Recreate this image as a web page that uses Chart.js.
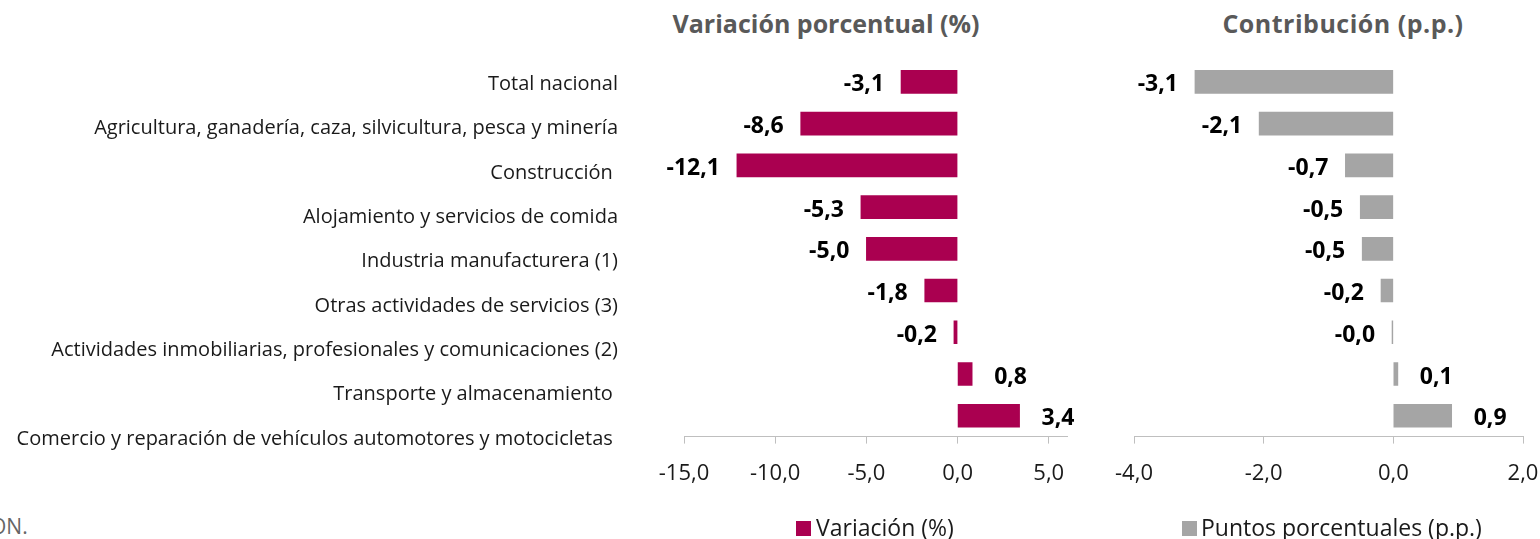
<!DOCTYPE html>
<html lang="es">
<head>
<meta charset="utf-8">
<script src="https://cdn.jsdelivr.net/npm/chart.js@4.4.1/dist/chart.umd.min.js"></script>
<style>
  body { margin: 0; width: 1540px; height: 539px; background: #fff; overflow: hidden; position: relative; font-family: "Open Sans", sans-serif; }
  canvas { position: absolute; top: 0; }
  .titulo { position: absolute; top: 6px; width: 500px; font-weight: bold; font-size: 25px; color: #595959; text-align: center; white-space: nowrap; }
  .leyenda { position: absolute; top: 511px; font-size: 23px; color: #1a1a1a; white-space: nowrap; }
  .cuadro { position: absolute; top: 521px; width: 15px; height: 15px; }
  #fuente { position: absolute; left: -10px; top: 512px; font-size: 21px; color: #666; }
</style>
</head>
<body>
<div class="titulo" style="left:576px;">Variación porcentual (%)</div>
<div class="titulo" style="left:1093px; letter-spacing:0.5px;">Contribución (p.p.)</div>
<div id="fuente">ON.</div>
<canvas id="etiquetasCanvas" width="640" height="539" style="left:0;"></canvas>
<canvas id="variacionCanvas" width="470" height="539" style="left:630px;"></canvas>
<canvas id="contribucionCanvas" width="440" height="539" style="left:1100px;"></canvas>
<span class="cuadro" id="cuadroVariacion" style="left:796px;"></span>
<span class="leyenda" id="leyendaVariacion" style="left:816px;"></span>
<span class="cuadro" id="cuadroContribucion" style="left:1182px;"></span>
<span class="leyenda" id="leyendaContribucion" style="left:1201px;"></span>
<script>
const categorias = [
  "Total nacional",
  "Agricultura, ganadería, caza, silvicultura, pesca y minería",
  "Construcción ",
  "Alojamiento y servicios de comida",
  "Industria manufacturera (1)",
  "Otras actividades de servicios (3)",
  "Actividades inmobiliarias, profesionales y comunicaciones (2)",
  "Transporte y almacenamiento ",
  "Comercio y reparación de vehículos automotores y motocicletas "
];
const variacion = [-3.1, -8.6, -12.1, -5.3, -5.0, -1.8, -0.2, 0.8, 3.4];
const contribucion = [-3.06, -2.07, -0.74, -0.51, -0.48, -0.19, -0.02, 0.07, 0.9];
const ticksVariacion = [-15, -10, -5, 0, 5];
const ticksContribucion = [-4, -2, 0, 2];
const serieVariacion = "Variación (%)";
const serieContribucion = "Puntos porcentuales (p.p.)";
const colorVariacion = "#aa0050";
const colorContribucion = "#a5a5a5";

const fuente = '"Open Sans", sans-serif';
const formato = v => v.toFixed(1).replace('.', ',');

// etiquetas de datos al final de cada barra
const etiquetasBarras = {
  id: 'etiquetasBarras',
  afterDatasetsDraw(chart) {
    const ctx = chart.ctx;
    const meta = chart.getDatasetMeta(0);
    const valores = chart.data.datasets[0].data;
    ctx.save();
    ctx.font = 'bold 23px ' + fuente;
    ctx.fillStyle = '#000';
    ctx.textBaseline = 'middle';
    meta.data.forEach((barra, i) => {
      const v = valores[i];
      if (v < 0) {
        ctx.textAlign = 'right';
        ctx.fillText(formato(v), barra.x - 17, barra.y + 3);
      } else {
        ctx.textAlign = 'left';
        ctx.fillText(formato(v), barra.x + 22, barra.y + 3);
      }
    });
    ctx.restore();
  }
};

// columna de categorias
new Chart(document.getElementById("etiquetasCanvas"), {
  type: "bar",
  data: { labels: categorias, datasets: [] },
  options: {
    indexAxis: "y",
    responsive: false,
    animation: false,
    layout: { padding: { top: 62, bottom: 78, left: 0, right: 0 } },
    plugins: { legend: { display: false }, tooltip: { enabled: false } },
    scales: {
      x: { display: false },
      y: {
        type: "category",
        labels: categorias,
        grid: { display: false, drawTicks: false },
        border: { display: false },
        afterFit: s => { s.width = 628; },
        ticks: { autoSkip: false, padding: 10, color: "#1a1a1a", font: { family: fuente, size: 20 } }
      }
    }
  }
});

function grafico(id, valores, color, etiqueta, min, max, marcas, pad) {
  return new Chart(document.getElementById(id), {
    type: "bar",
    data: {
      labels: categorias,
      datasets: [{
        label: etiqueta,
        data: valores,
        backgroundColor: color,
        barThickness: 23
      }]
    },
    options: {
      indexAxis: "y",
      responsive: false,
      animation: false,
      layout: { padding: pad },
      plugins: {
        tooltip: { enabled: false },
        legend: { display: false }
      },
      scales: {
        y: { display: false },
        x: {
          min: min,
          max: max,
          afterBuildTicks: s => { s.ticks = marcas.map(v => ({ value: v })); },
          // el area del grafico la fija el padding del layout
          afterFit: s => { s.paddingLeft = 0; s.paddingRight = 0; },
          grid: { drawOnChartArea: false, drawTicks: true, tickLength: 7, color: "#bfbfbf" },
          border: { color: "#bfbfbf", width: 1 },
          ticks: {
            padding: 17,
            maxRotation: 0,
            color: "#1a1a1a",
            font: { family: fuente, size: 22 },
            callback: v => formato(v)
          }
        }
      }
    },
    plugins: [etiquetasBarras]
  });
}

grafico("variacionCanvas", variacion, colorVariacion, serieVariacion, -15, 6, ticksVariacion,
  { top: 61, bottom: 35, left: 54, right: 33 });
grafico("contribucionCanvas", contribucion, colorContribucion, serieContribucion, -4, 2, ticksContribucion,
  { top: 61, bottom: 35, left: 34, right: 17 });

// leyendas
document.getElementById("cuadroVariacion").style.background = colorVariacion;
document.getElementById("leyendaVariacion").textContent = serieVariacion;
document.getElementById("cuadroContribucion").style.background = colorContribucion;
document.getElementById("leyendaContribucion").textContent = serieContribucion;
</script>
</body>
</html>
